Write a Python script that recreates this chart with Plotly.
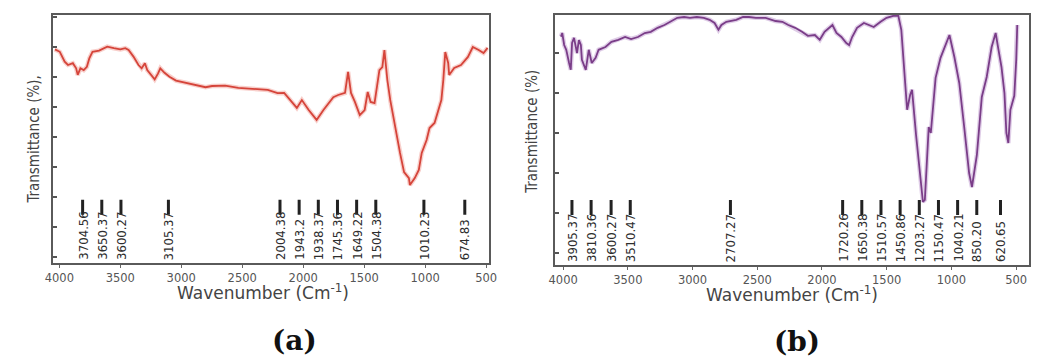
import plotly.graph_objects as go

# ---------------- data ----------------
# Panel (a): wavenumber (cm-1) and transmittance (arbitrary %, no tick labels shown)
wn_a = [4036, 3996, 3956, 3929, 3889, 3862, 3849, 3827, 3800, 3774, 3754, 3728, 3674,
        3607, 3553, 3500, 3459, 3432, 3392, 3351, 3325, 3298, 3279, 3244, 3218, 3190,
        3172, 3137, 3097, 3043, 2962, 2882, 2801, 2747, 2640, 2532, 2425, 2291, 2210,
        2156, 2052, 2011, 1955, 1890, 1834, 1753, 1713, 1657, 1632, 1608, 1576, 1536,
        1496, 1471, 1447, 1415, 1375, 1351, 1334, 1310, 1286, 1246, 1206, 1173, 1133,
        1125, 1085, 1052, 1028, 988, 964, 923, 891, 867, 851, 835, 811, 803, 762, 706,
        649, 609, 561, 521, 488]
t_a = [69.2, 68.4, 65.1, 64.0, 64.6, 62.9, 60.7, 62.9, 62.3, 63.4, 66.2, 68.4, 68.8,
       70.1, 69.6, 69.2, 69.6, 69.0, 66.8, 64.0, 62.9, 64.6, 62.3, 60.7, 59.2, 61.2,
       62.9, 61.4, 60.1, 58.8, 58.1, 57.3, 56.6, 57.0, 57.1, 56.4, 56.2, 55.7, 54.6,
       54.7, 49.7, 52.3, 49.0, 45.7, 49.0, 53.3, 54.0, 54.7, 61.7, 54.7, 51.7, 47.3,
       49.0, 55.0, 51.7, 51.3, 62.3, 63.3, 69.0, 59.0, 52.3, 43.3, 34.7, 28.3, 26.3,
       24.0, 26.3, 29.0, 34.7, 39.0, 43.0, 44.7, 49.0, 52.3, 59.0, 68.3, 64.7, 60.7,
       63.0, 64.0, 66.7, 70.0, 69.0, 68.0, 69.7]
peaks_a = ["3704.56", "3650.37", "3600.27", "3105.37", "2004.38", "1943.2", "1938.37",
           "1745.36", "1649.22", "1504.38", "1010.23", "674.83"]

# Panel (b)
wn_b = [4017, 4007, 3992, 3976, 3954, 3941, 3931, 3916, 3893, 3878, 3863, 3855, 3825,
        3802, 3779, 3749, 3726, 3673, 3627, 3574, 3521, 3475, 3422, 3369, 3323, 3270,
        3217, 3172, 3118, 3065, 3020, 2967, 2913, 2868, 2830, 2800, 2777, 2739, 2663,
        2610, 2564, 2511, 2435, 2359, 2306, 2260, 2207, 2154, 2109, 2055, 2017, 1980,
        1942, 1919, 1888, 1850, 1812, 1790, 1767, 1729, 1676, 1638, 1600, 1547, 1501,
        1448, 1410, 1387, 1357, 1342, 1319, 1304, 1273, 1243, 1220, 1205, 1190, 1175,
        1159, 1144, 1122, 1084, 1046, 1015, 977, 939, 901, 863, 841, 803, 765, 727,
        689, 658, 636, 613, 590, 575, 560, 544, 514, 499, 491]
t_b = [54.1, 55.0, 52.0, 50.8, 47.5, 45.8, 52.5, 53.8, 50.0, 53.2, 52.0, 48.3, 45.8,
       50.8, 47.5, 48.8, 50.8, 51.5, 52.8, 53.3, 54.0, 53.5, 54.0, 55.0, 55.3, 56.3,
       57.0, 57.8, 58.8, 59.0, 58.8, 59.0, 58.8, 58.3, 57.5, 55.8, 57.0, 57.8, 58.3,
       59.0, 59.0, 58.8, 58.8, 58.0, 57.8, 57.0, 56.3, 55.3, 54.3, 54.5, 53.3, 55.3,
       56.3, 57.0, 55.0, 54.0, 52.5, 52.0, 54.0, 56.3, 57.5, 57.0, 56.5, 57.8, 58.8,
       59.3, 59.3, 55.8, 41.5, 35.8, 39.5, 40.8, 29.5, 20.8, 12.8, 13.3, 23.3, 31.5,
       30.0, 35.8, 43.8, 48.8, 52.0, 54.5, 49.0, 42.5, 31.5, 20.0, 16.5, 24.5, 39.0,
       44.0, 51.5, 55.0, 50.8, 46.5, 40.0, 30.0, 27.5, 35.8, 39.3, 48.3, 57.0]
peaks_b = ["3905.37", "3810.36", "3600.27", "3510.47", "2707.27", "1720.26", "1650.38",
           "1510.57", "1450.86", "1203.27", "1150.47", "1040.21", "850.20", "620.65"]

x_ticks = [4000, 3500, 3000, 2500, 2000, 1500, 1000, 500]

# ---------------- layout constants ----------------
W, H = 1040, 361
DOM_A_X = [45 / W, 488 / W]
DOM_B_X = [556 / W, 1038 / W]
DOM_A_Y = [1 - 263 / H, 1 - 15 / H]
DOM_B_Y = [1 - 265 / H, 1 - 15 / H]
RANGE_A_X = [4050, 480]
RANGE_B_X = [4060, 400]
RANGE_A_Y = [-2, 80.67]
RANGE_B_Y = [-3, 59.5]
LABEL_GAP_PX = 19.5

LABEL_FONT = dict(family="Liberation Sans Narrow, DejaVu Sans Condensed, Arial Narrow, sans-serif",
                  size=13, color="#2e2e2e")


def spread_labels(values, rng, dom, gap_px):
    """Place labels at their wavenumber, nudging clustered ones apart (centred)."""
    ppu = (dom[1] - dom[0]) * W / abs(rng[0] - rng[1])
    order = sorted(range(len(values)), key=lambda i: -values[i])
    true_px = [(rng[0] - values[i]) * ppu for i in order]
    clusters = []  # [sum, count]
    for p in true_px:
        clusters.append([p, 1])
        while len(clusters) > 1:
            s2, n2 = clusters[-1]
            s1, n1 = clusters[-2]
            end1 = s1 / n1 + (n1 - 1) * gap_px / 2
            start2 = s2 / n2 - (n2 - 1) * gap_px / 2
            if start2 - end1 < gap_px:
                clusters[-2] = [s1 + s2, n1 + n2]
                clusters.pop()
            else:
                break
    placed = []
    for s, n in clusters:
        start = s / n - (n - 1) * gap_px / 2
        placed.extend(start + k * gap_px for k in range(n))
    out = [0.0] * len(values)
    for idx, p in zip(order, placed):
        out[idx] = rng[0] - p / ppu
    return out


fig = go.Figure()

# Panel (a) curve: soft halo + core line
fig.add_trace(go.Scatter(x=wn_a, y=t_a, mode="lines", xaxis="x", yaxis="y",
                         line=dict(color="rgba(236,120,110,0.35)", width=4.5),
                         hoverinfo="skip", showlegend=False))
fig.add_trace(go.Scatter(x=wn_a, y=t_a, mode="lines", xaxis="x", yaxis="y",
                         line=dict(color="#d5443a", width=1.8), showlegend=False))
# Panel (b) curve
fig.add_trace(go.Scatter(x=wn_b, y=t_b, mode="lines", xaxis="x2", yaxis="y2",
                         line=dict(color="rgba(175,130,195,0.40)", width=4.5),
                         hoverinfo="skip", showlegend=False))
fig.add_trace(go.Scatter(x=wn_b, y=t_b, mode="lines", xaxis="x2", yaxis="y2",
                         line=dict(color="#7a3d88", width=1.8), showlegend=False))

annotations = []
shapes = []


def add_peak_labels(labels, rng, dom, xref, yref, bar_lo, bar_hi):
    vals = [float(s) for s in labels]
    pos = spread_labels(vals, rng, dom, LABEL_GAP_PX)
    for txt, p in zip(labels, pos):
        annotations.append(dict(x=p, xref=xref, y=0.004, yref=yref + " domain",
                                text=txt, textangle=-90, showarrow=False,
                                xanchor="center", yanchor="bottom", font=LABEL_FONT))
        shapes.append(dict(type="line", xref=xref, yref=yref + " domain",
                           x0=p, x1=p, y0=bar_lo, y1=bar_hi,
                           line=dict(color="#222222", width=3)))


add_peak_labels(peaks_a, RANGE_A_X, DOM_A_X, "x", "y", 0.195, 0.255)
add_peak_labels(peaks_b, RANGE_B_X, DOM_B_X, "x2", "y2", 0.20, 0.26)


def paper(px, py):
    return px / W, 1 - py / H


title_font = dict(family="DejaVu Sans, Verdana, sans-serif", size=17, color="#444444")
ytitle_font = dict(family="Liberation Sans Narrow, DejaVu Sans Condensed, Arial Narrow, sans-serif",
                   size=15, color="#444444")
panel_font = dict(family="DejaVu Serif, Liberation Serif, serif", size=28, color="#111111",
                  weight="bold")

for (px, py), txt, f, ang in [
    ((258, 292), "Wavenumber (Cm<sup>-1</sup>)", title_font, 0),
    ((797, 294), "Wavenumber (Cm<sup>-1</sup>)", title_font, 0),
    ((25, 140), "Transmittance (%),", ytitle_font, -90),
    ((532, 132), "Transmittance (%)", ytitle_font, -90),
    ((291, 340), "(a)", panel_font, 0),
    ((802, 341), "(b)", panel_font, 0),
]:
    x, y = paper(px, py)
    annotations.append(dict(x=x, y=y, xref="paper", yref="paper", text=txt, textangle=ang,
                            showarrow=False, xanchor="center", yanchor="middle", font=f))

axis_common = dict(showline=True, mirror=True, linecolor="#5a5a5a", linewidth=2,
                   showgrid=False, zeroline=False)
xtick_font = dict(family="DejaVu Sans, Verdana, sans-serif", size=11.5, color="#555555")

fig.update_layout(
    width=W, height=H, margin=dict(l=0, r=0, t=0, b=0),
    paper_bgcolor="white", plot_bgcolor="white", showlegend=False,
    xaxis=dict(domain=DOM_A_X, range=RANGE_A_X, anchor="y", tickvals=x_ticks,
               ticks="outside", ticklen=3, tickcolor="#666", tickfont=xtick_font,
               **axis_common),
    yaxis=dict(domain=DOM_A_Y, range=RANGE_A_Y, anchor="x", tick0=0, dtick=10,
               ticks="inside", ticklen=4, tickwidth=2, tickcolor="#555",
               showticklabels=False, **axis_common),
    xaxis2=dict(domain=DOM_B_X, range=RANGE_B_X, anchor="y2", tickvals=x_ticks,
                ticks="outside", ticklen=3, tickcolor="#666", tickfont=xtick_font,
                **axis_common),
    yaxis2=dict(domain=DOM_B_Y, range=RANGE_B_Y, anchor="x2", tick0=0, dtick=10,
                ticks="inside", ticklen=4, tickwidth=2, tickcolor="#555",
                showticklabels=False, **axis_common),
    annotations=annotations,
    shapes=shapes,
)

fig.write_html("out.html", config={"displayModeBar": False},
               post_script="document.body.style.margin='0';document.body.style.padding='0';")
